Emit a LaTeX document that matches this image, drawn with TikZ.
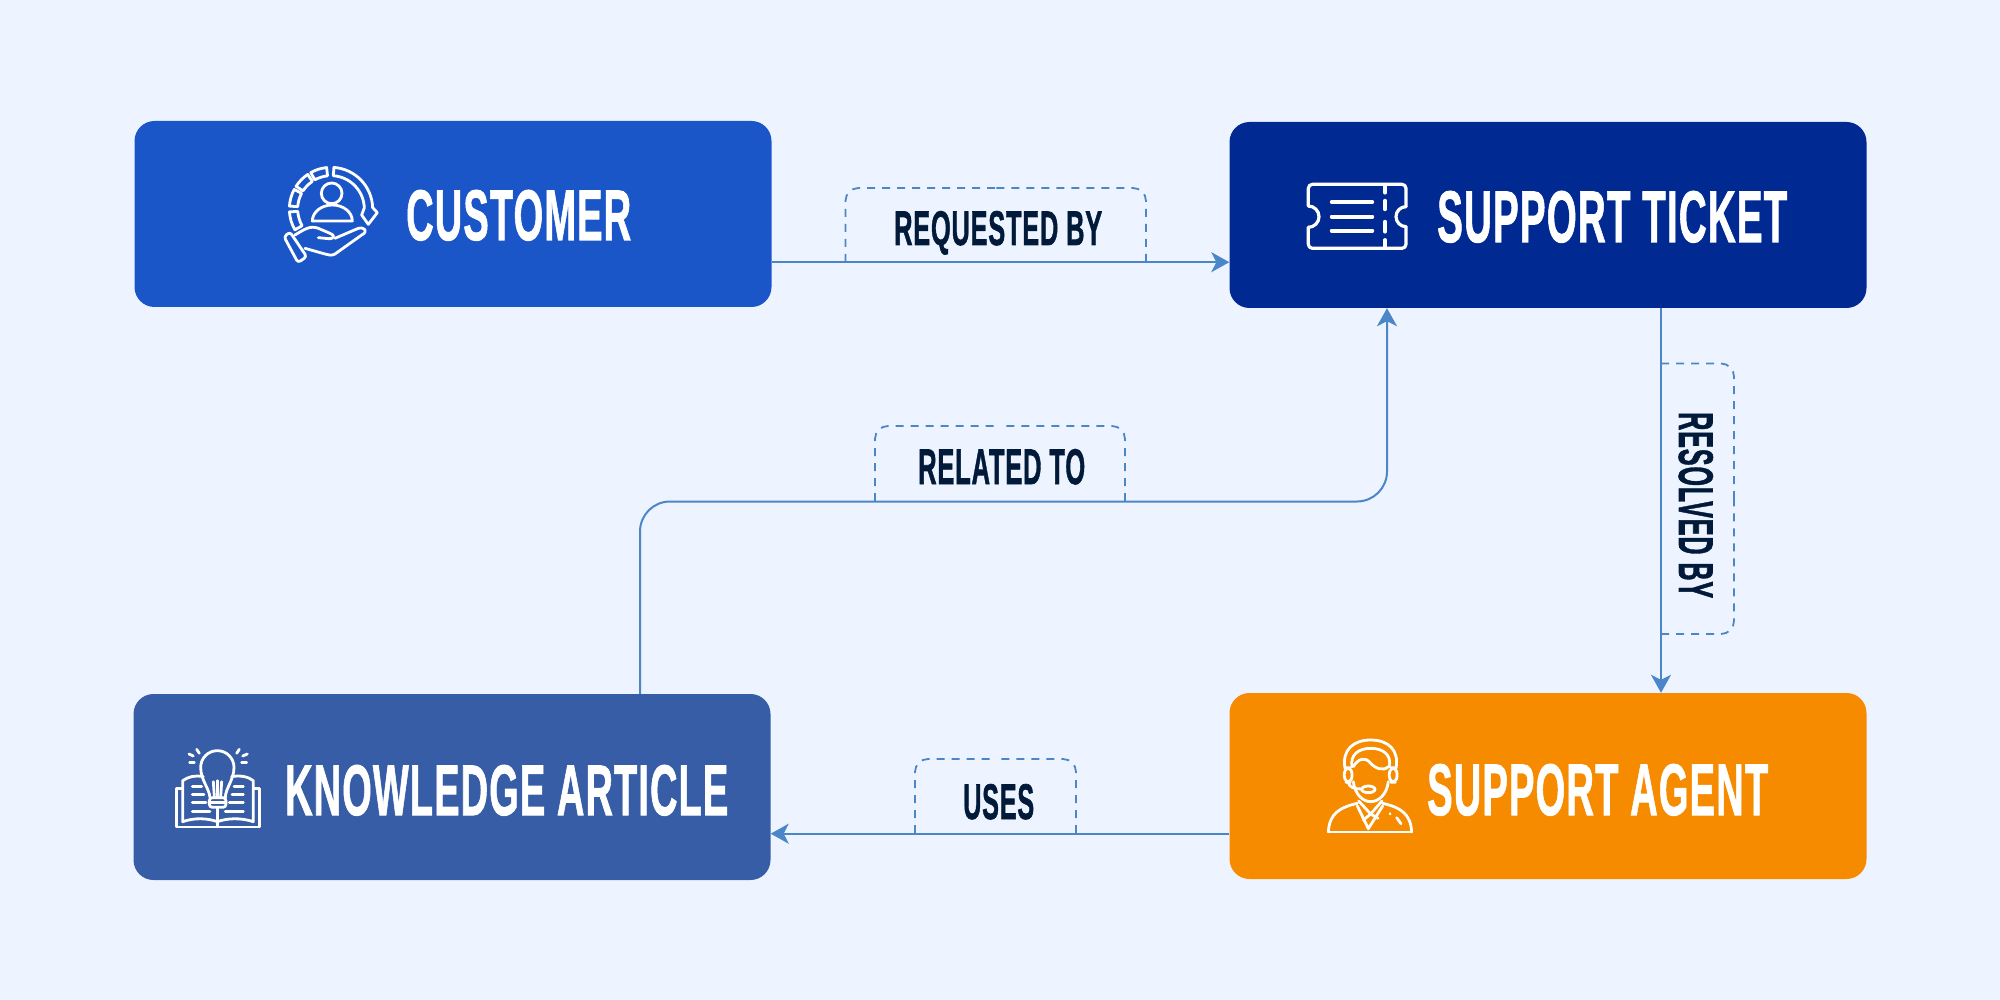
\documentclass[tikz,border=0pt]{standalone}
\usepackage{fontspec}
\usepackage{graphicx}
\usetikzlibrary{arrows.meta}
\newfontfamily\bb[BoldFeatures={FakeBold=1.4},LetterSpace=3]{Liberation Sans}
\newcommand{\fitt}[3]{\resizebox{#1pt}{#2pt}{\bb\bfseries #3}}
\definecolor{pagebg}{HTML}{EEF4FF}
\definecolor{cblue}{HTML}{1B56C9}
\definecolor{cnavy}{HTML}{002A92}
\definecolor{csteel}{HTML}{365DA5}
\definecolor{corange}{HTML}{F68B00}
\definecolor{cink}{HTML}{011A3A}
\definecolor{cline}{HTML}{4A86C8}
\tikzset{
  card/.style={rectangle,rounded corners=20pt,minimum width=637pt,minimum height=186pt,inner sep=0pt,draw=none},
  title/.style={text=white,inner sep=0pt,anchor=base west},
  tag/.style={text=cink,inner sep=0pt,anchor=base west},
  conn/.style={draw=cline,line width=2pt,-{Stealth[length=18pt,width=20pt,inset=5pt]}},
  tab/.style={draw=cline,line width=1.8pt,dash pattern=on 8pt off 7pt,rounded corners=13pt},
  ico/.style={draw=white,line width=2.8pt,line cap=round,line join=round},
}
\begin{document}
\begin{tikzpicture}[x=1pt,y=-1pt]
\useasboundingbox (0,0) rectangle (2000,1000);
\fill[pagebg] (0,0) rectangle (2000,1000);
% cards
\node[card,fill=cblue]   (cust)  at (453,214) {};
\node[card,fill=cnavy]   (tick)  at (1548,215) {};
\node[card,fill=csteel]  (know)  at (452,787) {};
\node[card,fill=corange] (agent) at (1548,786) {};
% titles
\node[title] (custT)  at (406,240)  {\fitt{225}{50}{CUSTOMER}};
\node[title] (tickT)  at (1437,242) {\fitt{350}{51}{SUPPORT TICKET}};
\node[title] (knowT)  at (285,815)  {\fitt{443}{50}{KNOWLEDGE ARTICLE}};
\node[title] (agentT) at (1427,815) {\fitt{341}{51}{SUPPORT AGENT}};
% tabs (each drawn in two halves, so that a dash meets the line at both ends)
\draw[tab] (845.5,262) -- (845.5,188) -- (996,188);
\draw[tab] (1146,262) -- (1146,188) -- (996,188);
\draw[tab] (875,501) -- (875,426) -- (1000,426);
\draw[tab] (1125,501) -- (1125,426) -- (1000,426);
\draw[tab] (915,833) -- (915,759) -- (995.5,759);
\draw[tab] (1076,833) -- (1076,759) -- (995.5,759);
\draw[tab] (1661,363.5) -- (1734,363.5) -- (1734,499);
\draw[tab] (1661,634) -- (1734,634) -- (1734,499);
% connectors
\draw[conn] ([yshift=45pt]cust.south east) -- ([yshift=46pt]tick.south west);
\draw[conn] ([xshift=113pt]tick.south) -- ([xshift=113pt]agent.north);
\draw[conn] ([yshift=45.5pt]agent.south west) -- ([yshift=46.5pt]know.south east);
\draw[conn,rounded corners=30pt] ([xshift=188pt]know.north) |- (1387,501.5) -- ([xshift=-161pt]tick.south);
% tag texts
\node[tag] (t1) at (894,245) {\fitt{208}{34}{REQUESTED BY}};
\node[tag] (t2) at (918,484) {\fitt{167}{35}{RELATED TO}};
\node[tag] (t3) at (963,819) {\fitt{71}{35}{USES}};
\node[tag,rotate=-90] (t4) at (1679,412) {\fitt{186}{34}{RESOLVED BY}};
% customer icon
\begin{scope}[shift={(260,140)},x=1/3 pt,y=-1/3 pt,ico]
  \draw (215,160) circle (31);
  \draw (157,243) arc (180:360:60 and 48) -- cycle;
  \begin{scope}[shift={(213,207)}]
  \foreach \a/\b in {-119/-96,-147/-124,-176/-152,150/176}{
    \draw (\a:125) arc (\a:\b:125) -- (\b:100) arc (\b:\a:100) -- cycle;
  }
  \draw (-86:125) arc (-86:-2:125) -- (139,11) -- (112,46) -- (92,18) -- (-2:100) arc (-2:-86:100) -- cycle;
  \end{scope}
  \draw[rounded corners=3pt] (72,290) -- (90,276) -- (140,350) -- (114,368) -- cycle;
  \draw (105,285) .. controls (130,270) and (150,255) .. (175,265) -- (210,280) .. controls (225,285) and (225,297) .. (205,296) -- (175,293);
  \draw (225,295) -- (295,265) .. controls (315,260) and (325,275) .. (305,285) -- (225,342) .. controls (215,348) and (205,345) .. (195,342) -- (135,325);
\end{scope}
% ticket icon
\begin{scope}[shift={(1280,160)},x=1/3 pt,y=-1/3 pt,ico,line width=3.2pt]
  \draw[rounded corners=4pt] (85,138) -- (85,73) -- (378,73) -- (378,140);
  \draw (378,140) arc (-90:-270:30);
  \draw[rounded corners=4pt] (378,200) -- (378,265) -- (85,265) -- (85,202);
  \draw (85,202) arc (90:-90:32);
  \foreach \y in {126,170,212}{\draw[line width=3.8pt] (155,\y) -- (277,\y);}
  \draw[line width=3.8pt] (315,76) -- (315,98);
  \draw[line width=3.8pt] (315,122) -- (315,148);
  \draw[line width=3.8pt] (315,185) -- (315,215);
  \draw[line width=3.8pt] (315,240) -- (315,263);
\end{scope}
% book icon
\begin{scope}[shift={(160,730)},x=1/3 pt,y=-1/3 pt,ico]
  \draw (150,203) .. controls (148,175) and (122,150) .. (122,112) arc (180:360:50) .. controls (222,150) and (196,175) .. (196,203);
  \draw[rounded corners=3pt] (148,203) rectangle (198,232);
  \draw (148,217) -- (198,217);
  \draw (160,155) -- (163,200); \draw (172,152) -- (172,200); \draw (185,155) -- (182,200);
  \draw (130,140) .. controls (105,135) and (85,140) .. (68,152) -- (68,275) .. controls (105,262) and (145,265) .. (172,275) .. controls (200,265) and (240,262) .. (280,275) -- (280,152) .. controls (265,140) and (240,135) .. (215,140);
  \draw (65,175) -- (50,175) -- (50,291) -- (298,291) -- (298,175) -- (282,175);
  \draw (172,235) -- (172,290);
  \foreach \x/\z/\y in {97/125/170,97/132/193,97/138/218,97/150/245,222/250/170,216/250/193,208/250/218,196/250/245}{\draw (\x,\y) -- (\z,\y);}
  \draw (87,72) -- (100,78); \draw (110,58) -- (118,70); \draw (89,98) -- (103,98);
  \draw (238,58) -- (230,70); \draw (262,72) -- (248,78); \draw (245,98) -- (260,98);
\end{scope}
% agent icon
\begin{scope}[shift={(1300,720)},x=1/3 pt,y=-1/3 pt,ico]
  \draw (135,145) .. controls (125,90) and (160,60) .. (212,60) .. controls (265,60) and (298,90) .. (288,145);
  \draw (156,140) .. controls (150,105) and (175,85) .. (212,85) .. controls (250,85) and (275,105) .. (268,140);
  \draw[rounded corners=6pt] (133,143) rectangle (156,187);
  \draw[rounded corners=6pt] (268,143) rectangle (291,187);
  \draw (160,140) .. controls (175,115) and (195,110) .. (210,128) .. controls (225,145) and (250,155) .. (265,140);
  \draw (160,185) .. controls (165,225) and (190,245) .. (212,245) .. controls (235,245) and (260,225) .. (265,185);
  \draw (145,188) .. controls (148,203) and (165,207) .. (185,207);
  \draw (205,208) ellipse (20 and 10);
  \draw (176,243) -- (212,282) -- (246,243);
  \draw (172,258) -- (205,326) -- (248,258);
  \draw (212,282) -- (190,300); \draw (212,282) -- (234,295);
  \draw (85,336) .. controls (88,280) and (120,262) .. (172,250);
  \draw (335,336) .. controls (332,280) and (300,262) .. (248,250);
  \draw (85,336) -- (335,336);
  \draw (270,281) -- (270.5,281.5);
  \draw (290,293) -- (303,311);
\end{scope}
\end{tikzpicture}
\end{document}
